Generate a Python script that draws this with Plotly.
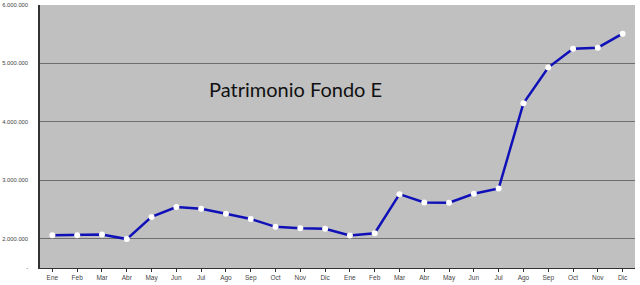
import plotly.graph_objects as go

months = ["Ene", "Feb", "Mar", "Abr", "May", "Jun", "Jul", "Ago", "Sep", "Oct", "Nov", "Dic",
          "Ene", "Feb", "Mar", "Abr", "May", "Jun", "Jul", "Ago", "Sep", "Oct", "Nov", "Dic"]
values = [2061000, 2061000, 2073000, 1995000, 2374000, 2544000, 2515000, 2430000, 2340000,
          2204000, 2180000, 2170000, 2056000, 2095000, 2764000, 2622000, 2617000, 2770000,
          2860000, 4320000, 4930000, 5250000, 5270000, 5510000]
ytick_vals = [1500000, 2000000, 3000000, 4000000, 5000000, 6000000]
ytick_text = ["-", "2.000.000", "3.000.000", "4.000.000", "5.000.000", "6.000.000"]
title_text = "Patrimonio Fondo E"

x = list(range(len(months)))

fig = go.Figure()
fig.add_trace(go.Scatter(
    x=x, y=values, mode="lines+markers",
    line=dict(color="#1010b8", width=2.5),
    marker=dict(color="white", size=6, line=dict(width=0)),
    hoverinfo="skip",
))

fig.add_annotation(
    x=0.43, y=0.68, xref="paper", yref="paper", text=title_text, showarrow=False,
    xanchor="center", yanchor="middle",
    font=dict(family="Lato, Open Sans, sans-serif", size=20, color="#111111"),
)

fig.update_layout(
    width=640, height=285,
    margin=dict(l=40, r=5, t=5, b=17, autoexpand=False),
    paper_bgcolor="white", plot_bgcolor="#c0c0c0",
    showlegend=False,
    font=dict(family="Liberation Sans, Arial, sans-serif", size=6, color="#444444"),
    xaxis=dict(
        range=[-0.5, len(months) - 0.5],
        tickmode="array", tickvals=x, ticktext=months,
        showgrid=False, zeroline=False,
        showline=True, linecolor="#333333", linewidth=1,
        ticks="outside", ticklen=3, tickcolor="#333333",
        tickson="boundaries", automargin=False,
        tickfont=dict(size=6.5, color="#444444"),
    ),
    yaxis=dict(
        range=[1500000, 6000000],
        tickmode="array", tickvals=ytick_vals, ticktext=ytick_text,
        showgrid=True, gridcolor="#6e6e6e", gridwidth=1,
        zeroline=False, automargin=False,
        showline=True, linecolor="#333333", linewidth=1.5,
        ticks="", ticklen=0, ticklabelstandoff=9,
        tickfont=dict(size=5.8, color="#444444"),
    ),
)

fig.write_html("out.html")
